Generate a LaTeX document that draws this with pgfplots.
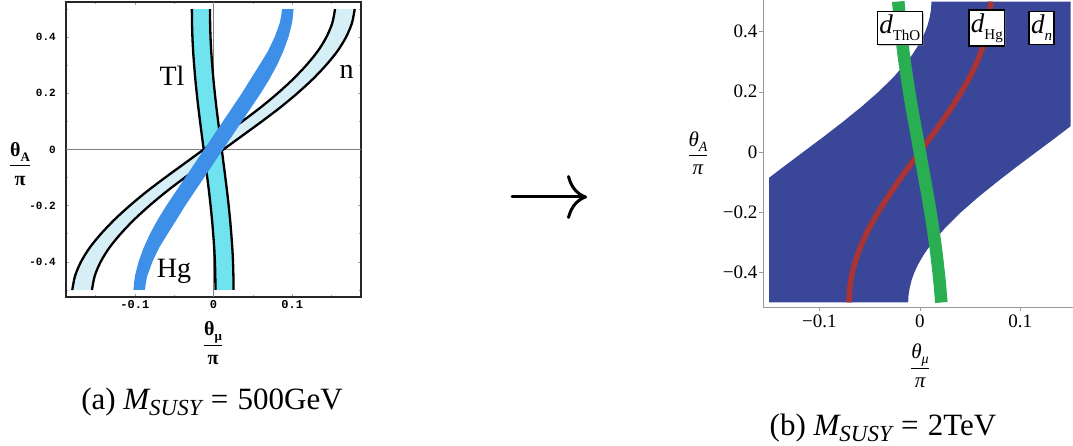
\documentclass[border=0pt]{standalone}
\usepackage{pgfplots}
\pgfplotsset{compat=1.18}
\usepackage{fontspec}
\setmainfont{Liberation Serif}
\setmonofont{Liberation Mono}
\usetikzlibrary{shadows,arrows.meta}
\definecolor{nband}{HTML}{D6EFF6}
\definecolor{tlband}{HTML}{6FE3EE}
\definecolor{hgband}{HTML}{3D8FE8}
\definecolor{blueR}{HTML}{3A4799}
\definecolor{redR}{HTML}{AA3333}
\definecolor{greenR}{HTML}{2AAE52}
\newcommand\lab[1]{\fontsize{#1}{#1}\selectfont}
% left panel: band edges, x as a function of y
\pgfplotstableread{
y     nL      nR      tL      tR
-0.50 -0.1795 -0.1545 0.0025  0.0255
-0.45 -0.1760 -0.1510 0.0023  0.0253
-0.40 -0.1685 -0.1435 0.0018  0.0248
-0.35 -0.1575 -0.1325 0.0009  0.0239
-0.30 -0.1430 -0.1180 -0.0004 0.0226
-0.25 -0.1260 -0.1010 -0.0019 0.0211
-0.20 -0.1065 -0.0815 -0.0037 0.0193
-0.15 -0.0850 -0.0600 -0.0057 0.0173
-0.10 -0.0615 -0.0365 -0.0079 0.0151
-0.05 -0.0370 -0.0120 -0.0102 0.0128
0.00  -0.0125 0.0125  -0.0125 0.0105
0.05  0.0120  0.0370  -0.0148 0.0082
0.10  0.0365  0.0615  -0.0171 0.0059
0.15  0.0600  0.0850  -0.0193 0.0037
0.20  0.0815  0.1065  -0.0213 0.0017
0.25  0.1010  0.1260  -0.0231 -0.0001
0.30  0.1180  0.1430  -0.0246 -0.0016
0.35  0.1325  0.1575  -0.0259 -0.0029
0.40  0.1435  0.1685  -0.0268 -0.0038
0.45  0.1510  0.1760  -0.0273 -0.0043
0.50  0.1545  0.1795  -0.0275 -0.0045
}\lefttab
% right panel: Hg (red) and ThO (green) curves
\pgfplotstableread{
y     hg      tho
-0.50 -0.0705 0.0214
-0.45 -0.0696 0.0202
-0.40 -0.0671 0.0187
-0.35 -0.0628 0.0170
-0.30 -0.0570 0.0151
-0.25 -0.0499 0.0129
-0.20 -0.0414 0.0106
-0.15 -0.0320 0.0081
-0.10 -0.0218 0.0054
-0.05 -0.0110 0.0027
0.00  0.0000  0.0000
0.05  0.0110  -0.0027
0.10  0.0218  -0.0054
0.15  0.0320  -0.0081
0.20  0.0414  -0.0106
0.25  0.0499  -0.0129
0.30  0.0570  -0.0151
0.35  0.0628  -0.0170
0.40  0.0671  -0.0187
0.45  0.0696  -0.0202
0.50  0.0705  -0.0214
}\righttab
\begin{document}
\begin{tikzpicture}
\useasboundingbox (0pt,0pt) rectangle (1073pt,-446pt);
% ---------------- left panel ----------------
\begin{axis}[at={(66pt,-297pt)}, anchor=south west, scale only axis,
  width=295pt, height=295pt,
  xmin=-0.1875, xmax=0.1875, ymin=-0.525, ymax=0.525,
  axis line style={line width=2.2pt, black!85},
  xtick={-0.1,0,0.1}, xticklabels={-0.1,0,0.1},
  ytick={-0.4,-0.2,0,0.2,0.4}, yticklabels={-0.4,-0.2,0,0.2,0.4},
  minor xtick={-0.15,-0.05,0.05,0.15}, minor ytick={-0.5,-0.3,-0.1,0.1,0.3,0.5},
  tick align=inside, major tick length=3pt, minor tick length=2pt,
  tick style={black!35, line width=0.6pt},
  xticklabel style={font=\ttfamily\bfseries\lab{12}, inner sep=1pt, yshift=-2pt},
  yticklabel style={font=\ttfamily\bfseries\lab{11}, inner sep=1pt, xshift=-9pt},
]
\addplot[black!50, line width=0.8pt] coordinates {(-0.1875,0) (0.1875,0)};
\addplot[black!50, line width=0.8pt] coordinates {(0,-0.525) (0,0.525)};
% n band
\addplot[fill=nband, draw=none] coordinates {
(-0.1795,-0.5) (-0.1760,-0.45) (-0.1685,-0.4) (-0.1575,-0.35) (-0.1430,-0.3) (-0.1260,-0.25) (-0.1065,-0.2) (-0.0850,-0.15) (-0.0615,-0.1) (-0.0370,-0.05) (-0.0125,0) (0.0120,0.05) (0.0365,0.1) (0.0600,0.15) (0.0815,0.2) (0.1010,0.25) (0.1180,0.3) (0.1325,0.35) (0.1435,0.4) (0.1510,0.45) (0.1545,0.5)
(0.1795,0.5) (0.1760,0.45) (0.1685,0.4) (0.1575,0.35) (0.1430,0.3) (0.1260,0.25) (0.1065,0.2) (0.0850,0.15) (0.0615,0.1) (0.0370,0.05) (0.0125,0) (-0.0120,-0.05) (-0.0365,-0.1) (-0.0600,-0.15) (-0.0815,-0.2) (-0.1010,-0.25) (-0.1180,-0.3) (-0.1325,-0.35) (-0.1435,-0.4) (-0.1510,-0.45) (-0.1545,-0.5)};
% Tl band
\addplot[fill=tlband, draw=none] coordinates {
(0.0025,-0.5) (0.0023,-0.45) (0.0018,-0.4) (0.0009,-0.35) (-0.0004,-0.3) (-0.0019,-0.25) (-0.0037,-0.2) (-0.0057,-0.15) (-0.0079,-0.1) (-0.0102,-0.05) (-0.0125,0) (-0.0148,0.05) (-0.0171,0.1) (-0.0193,0.15) (-0.0213,0.2) (-0.0231,0.25) (-0.0246,0.3) (-0.0259,0.35) (-0.0268,0.4) (-0.0273,0.45) (-0.0275,0.5)
(-0.0045,0.5) (-0.0043,0.45) (-0.0038,0.4) (-0.0029,0.35) (-0.0016,0.3) (-0.0001,0.25) (0.0017,0.2) (0.0037,0.15) (0.0059,0.1) (0.0082,0.05) (0.0105,0) (0.0128,-0.05) (0.0151,-0.1) (0.0173,-0.15) (0.0193,-0.2) (0.0211,-0.25) (0.0226,-0.3) (0.0239,-0.35) (0.0248,-0.4) (0.0253,-0.45) (0.0255,-0.5)};
\addplot[black, line width=2.3pt, smooth] table[x=nL, y=y] {\lefttab};
\addplot[black, line width=2.3pt, smooth] table[x=nR, y=y] {\lefttab};
\addplot[black, line width=2.3pt, smooth] table[x=tL, y=y] {\lefttab};
\addplot[black, line width=2.3pt, smooth] table[x=tR, y=y] {\lefttab};
% Hg band
\addplot[fill=hgband, draw=none] coordinates {
(-0.1018,-0.5) (-0.1010,-0.475) (-0.0998,-0.45) (-0.0953,-0.4) (-0.0888,-0.35) (-0.0807,-0.3) (-0.0710,-0.25) (-0.0600,-0.2) (-0.0480,-0.15) (-0.0360,-0.1) (-0.0240,-0.05) (-0.0120,0) (0.0000,0.05) (0.0120,0.1) (0.0240,0.15) (0.0360,0.2) (0.0470,0.25) (0.0583,0.3) (0.0692,0.35) (0.0777,0.4) (0.0842,0.45) (0.0860,0.475) (0.0872,0.5)
(0.1018,0.5) (0.1010,0.475) (0.0998,0.45) (0.0953,0.4) (0.0888,0.35) (0.0807,0.3) (0.0710,0.25) (0.0600,0.2) (0.0480,0.15) (0.0360,0.1) (0.0240,0.05) (0.0120,0) (0.0000,-0.05) (-0.0120,-0.1) (-0.0240,-0.15) (-0.0360,-0.2) (-0.0470,-0.25) (-0.0583,-0.3) (-0.0692,-0.35) (-0.0777,-0.4) (-0.0842,-0.45) (-0.0860,-0.475) (-0.0872,-0.5)};
\node[anchor=base, font=\lab{28}] at (axis cs:-0.0528,0.2295) {Tl};
\node[anchor=base, font=\lab{28}] at (axis cs:0.1693,0.254) {n};
\node[anchor=base, font=\lab{28}] at (axis cs:-0.0502,-0.457) {Hg};
\end{axis}
\node[font=\bfseries\lab{20}] at (20pt,-164pt) {$\displaystyle\frac{\mbox{θ\raisebox{-0.25em}{\lab{13}A}}}{\mbox{π}}$};
\node[font=\bfseries\lab{20}] at (213pt,-343pt) {$\displaystyle\frac{\mbox{θ\raisebox{-0.25em}{\lab{13}μ}}}{\mbox{π}}$};
\node[anchor=base, font=\lab{31}] at (212pt,-409pt) {(a) {\itshape M}\raisebox{-0.22em}{\lab{23}\itshape SUSY}\hspace{0.3em}=\hspace{0.3em}500GeV};
\draw[line width=3pt, line cap=round, -{Computer Modern Rightarrow[length=20pt, width=44pt, line width=3pt]}] (512pt,-197pt) -- (587pt,-197pt);
% ---------------- right panel ----------------
\begin{axis}[at={(763pt,-307pt)}, anchor=south west, scale only axis,
  width=313.6pt, height=310pt,
  xmin=-0.156, xmax=0.156, ymin=-0.515, ymax=0.515,
  axis x line=bottom, axis y line=left,
  axis line style={-, black!40, line width=0.8pt},
  xtick={-0.1,0,0.1}, xticklabels={−0.1,0,0.1},
  ytick={-0.4,-0.2,0,0.2,0.4}, yticklabels={−0.4,−0.2,0,0.2,0.4},
  tick align=outside, major tick length=4pt,
  tick style={black!40, line width=0.6pt},
  ticklabel style={font=\lab{19}, inner sep=1.5pt},
  xticklabel style={yshift=-2pt},
]
\addplot[fill=blueR, draw=none] coordinates {
(-0.15,-0.5) (-0.0116,-0.5) (-0.0112,-0.475) (-0.0100,-0.45) (-0.0081,-0.425) (-0.0054,-0.4) (-0.0019,-0.375) (0.0023,-0.35) (0.0072,-0.325) (0.0128,-0.3) (0.0258,-0.25) (0.0410,-0.2) (0.0581,-0.15) (0.0766,-0.1) (0.0960,-0.05) (0.1160,0) (0.1360,0.05) (0.150,0.0858)
(0.15,0.5) (0.0116,0.5) (0.0112,0.475) (0.0100,0.45) (0.0081,0.425) (0.0054,0.4) (0.0019,0.375) (-0.0023,0.35) (-0.0072,0.325) (-0.0128,0.3) (-0.0258,0.25) (-0.0410,0.2) (-0.0581,0.15) (-0.0766,0.1) (-0.0960,0.05) (-0.1160,0) (-0.1360,-0.05) (-0.150,-0.0858)};
\addplot[redR, line width=5.5pt, smooth] table[x=hg, y=y] {\righttab};
\addplot[greenR, line width=12.5pt, smooth] table[x=tho, y=y] {\righttab};
\node[draw=black, line width=1.3pt, fill=white, inner xsep=2pt, inner ysep=3.5pt, font=\lab{27}, drop shadow={shadow xshift=1.2pt, shadow yshift=-1.2pt, opacity=0.45}] at (axis cs:-0.0199,0.412) {\itshape d\raisebox{-0.25em}{\lab{15}\upshape ThO}};
\node[draw=black, line width=1.3pt, fill=white, inner xsep=2pt, inner ysep=3.5pt, font=\lab{27}, drop shadow={shadow xshift=1.2pt, shadow yshift=-1.2pt, opacity=0.45}] at (axis cs:0.0667,0.412) {\itshape d\raisebox{-0.25em}{\lab{15}\upshape Hg}};
\node[draw=black, line width=1.3pt, fill=white, inner xsep=2pt, inner ysep=3.5pt, font=\lab{27}, drop shadow={shadow xshift=1.2pt, shadow yshift=-1.2pt, opacity=0.45}] at (axis cs:0.1211,0.412) {\itshape d\raisebox{-0.25em}{\lab{15}n}};
\end{axis}
\node[font=\lab{21}] at (698pt,-153pt) {$\displaystyle\frac{\mbox{\itshape θ\raisebox{-0.25em}{\lab{14}A}}}{\mbox{\itshape π}}$};
\node[font=\lab{21}] at (920pt,-366pt) {$\displaystyle\frac{\mbox{\itshape θ\raisebox{-0.25em}{\lab{14}μ}}}{\mbox{\itshape π}}$};
\node[anchor=base, font=\lab{31}] at (883pt,-435pt) {(b) {\itshape M}\raisebox{-0.22em}{\lab{23}\itshape SUSY}\hspace{0.3em}=\hspace{0.3em}2TeV};
\end{tikzpicture}
\end{document}
